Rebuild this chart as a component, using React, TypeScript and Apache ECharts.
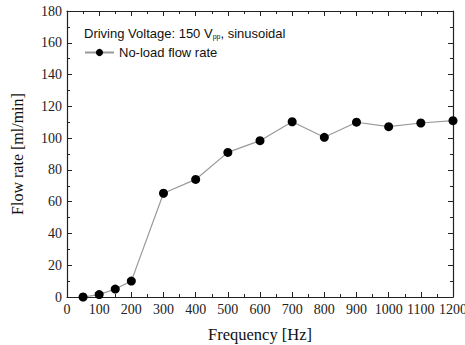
import React, { useEffect, useRef } from "react";
import * as echarts from "echarts";

const frequencies = [50, 100, 150, 200, 300, 400, 500, 600, 700, 800, 900, 1000, 1100, 1200];
const flowRates = [0, 1.5, 5, 10, 65.3, 74, 91, 98.4, 110.3, 100.5, 110, 107.2, 109.5, 111];
const seriesName = "No-load flow rate";

export default function App() {
  const ref = useRef<HTMLDivElement>(null);
  useEffect(() => {
    if (!ref.current) return;
    const chart = echarts.init(ref.current, null, { renderer: "svg" });
    const serif = "Liberation Serif";
    const axisCommon = {
      type: "value" as const,
      axisLine: { show: true, onZero: false, lineStyle: { color: "#222", width: 1.2 } },
      axisTick: { show: true, inside: true, length: 5, lineStyle: { color: "#222" } },
      minorTick: { show: true, splitNumber: 2, length: 3, lineStyle: { color: "#222" } },
      splitLine: { show: false },
    };
    const fmt = (v: number) => String(v);
    chart.setOption({
      animation: false,
      backgroundColor: "#fff",
      grid: { left: 67, right: 12, top: 11, bottom: 48, containLabel: false, outerBoundsMode: "none" },
      xAxis: [
        {
          ...axisCommon,
          min: 0,
          max: 1200,
          interval: 100,
          position: "bottom",
          name: "Frequency [Hz]",
          nameLocation: "middle",
          nameGap: 29,
          nameTextStyle: { fontFamily: serif, fontSize: 16.5, color: "#111" },
          axisLabel: { fontFamily: serif, fontSize: 14, color: "#222", margin: 5, showMaxLabel: true, formatter: fmt },
        },
        {
          ...axisCommon,
          min: 0,
          max: 1200,
          interval: 100,
          position: "top",
          axisLabel: { show: false },
        },
      ],
      yAxis: [
        {
          ...axisCommon,
          min: 0,
          max: 180,
          interval: 20,
          position: "left",
          name: "Flow rate [ml/min]",
          nameLocation: "middle",
          nameGap: 42,
          nameTextStyle: { fontFamily: serif, fontSize: 16, color: "#111" },
          axisLabel: { fontFamily: serif, fontSize: 14, color: "#222", margin: 5, formatter: fmt },
        },
        {
          ...axisCommon,
          min: 0,
          max: 180,
          interval: 20,
          position: "right",
          axisLabel: { show: false },
        },
      ],
      legend: {
        left: 79,
        top: 41,
        itemWidth: 29,
        itemHeight: 9,
        itemGap: 2,
        textStyle: { fontFamily: "Liberation Sans", fontSize: 13, color: "#111" },
        data: [seriesName],
      },
      graphic: [
        {
          type: "text",
          left: 84,
          top: 27,
          style: {
            text: "Driving Voltage: 150 V{sub|pp}, sinusoidal",
            fontFamily: "Liberation Sans",
            fontSize: 13,
            fill: "#111",
            rich: {
              sub: { fontSize: 7, fontFamily: "Liberation Sans", fill: "#111", verticalAlign: "bottom", padding: [6, 0, 0, 0] },
            },
          },
        },
      ],
      series: [
        {
          name: seriesName,
          type: "line",
          data: frequencies.map((f, i) => [f, flowRates[i]]),
          symbol: "circle",
          symbolSize: 9,
          lineStyle: { color: "#999", width: 1.2 },
          itemStyle: { color: "#000" },
          clip: false,
        },
      ],
    });
    return () => chart.dispose();
  }, []);
  return <div ref={ref} style={{ width: 465, height: 345, position: "absolute", left: 0, top: 0 }} />;
}
